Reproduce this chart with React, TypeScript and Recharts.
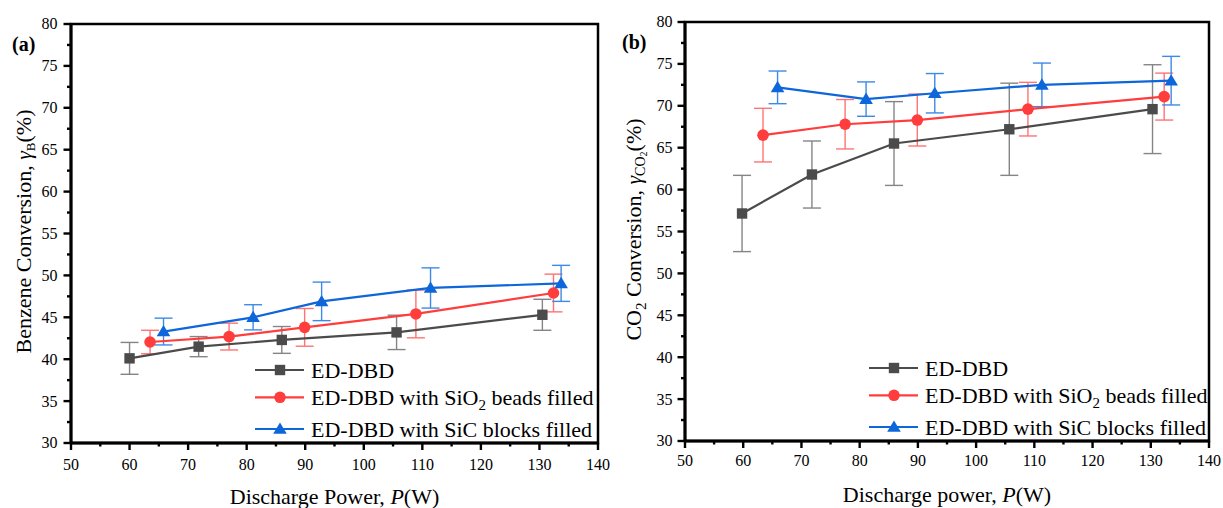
import React from 'react';
import { ScatterChart, Scatter, XAxis, YAxis, ErrorBar, ReferenceArea, Label } from 'recharts';

const FONT = '"Liberation Serif", "Times New Roman", serif';

// ---- axis ticks ----
const xTicks = [50, 55, 60, 65, 70, 75, 80, 85, 90, 95, 100, 105, 110, 115, 120, 125, 130, 135, 140];
const yTicks = [30, 32.5, 35, 37.5, 40, 42.5, 45, 47.5, 50, 52.5, 55, 57.5, 60, 62.5, 65, 67.5, 70, 72.5, 75, 77.5, 80];

// ---- series names ----
const seriesNames = ['ED-DBD', 'ED-DBD with SiO2 beads filled', 'ED-DBD with SiC blocks filled'];

// ---- panel (a): benzene conversion ----
const powerA_ED = [60.0, 71.8, 86.0, 105.6, 130.5];
const convA_ED = [40.1, 41.5, 42.3, 43.2, 45.3];
const errA_ED = [1.9, 1.2, 1.6, 2.05, 1.85];

const powerA_SiO2 = [63.5, 77.0, 89.9, 108.9, 132.4];
const convA_SiO2 = [42.05, 42.7, 43.8, 45.4, 47.9];
const errA_SiO2 = [1.4, 1.6, 2.25, 2.85, 2.25];

const powerA_SiC = [65.8, 81.1, 92.8, 111.4, 133.7];
const convA_SiC = [43.3, 45.0, 46.9, 48.5, 49.05];
const errA_SiC = [1.6, 1.5, 2.3, 2.4, 2.15];

// ---- panel (b): CO2 conversion ----
const powerB_ED = [59.8, 71.8, 85.9, 105.7, 130.3];
const convB_ED = [57.15, 61.8, 65.5, 67.2, 69.6];
const errB_ED = [4.55, 4.0, 5.0, 5.5, 5.3];

const powerB_SiO2 = [63.4, 77.5, 89.9, 108.9, 132.3];
const convB_SiO2 = [66.5, 67.8, 68.3, 69.6, 71.1];
const errB_SiO2 = [3.2, 2.95, 3.1, 3.2, 2.8];

const powerB_SiC = [65.9, 81.1, 92.9, 111.3, 133.5];
const convB_SiC = [72.2, 70.8, 71.5, 72.5, 73.0];
const errB_SiC = [1.95, 2.05, 2.35, 2.6, 2.9];

const mk = (xs: number[], ys: number[], es: number[]) => xs.map((x, i) => ({ x, y: ys[i], e: es[i] }));

const STYLES = [
  { color: '#4b4b4b', err: '#858585', shape: 'square' },
  { color: '#ff3d3d', err: '#ff7373', shape: 'circle' },
  { color: '#0d66da', err: '#3d8ae6', shape: 'triangle' },
];

const marker = (shape: string, cx: number, cy: number, fill: string) => {
  if (shape === 'square') return <rect x={cx - 5.2} y={cy - 5.2} width={10.4} height={10.4} fill={fill} />;
  if (shape === 'circle') return <circle cx={cx} cy={cy} r={5.8} fill={fill} />;
  return <path d={`M${cx},${cy - 6.5} L${cx + 6.8},${cy + 4.8} L${cx - 6.8},${cy + 4.8} Z`} fill={fill} />;
};

const makeShape = (shape: string, fill: string) => (props: any) => {
  if (props.cx == null || props.cy == null) return <g />;
  return marker(shape, props.cx, props.cy, fill);
};

const txtStyle = { fontFamily: FONT };

const YTick = (gap: number) => (props: any) => {
  const { x, y, payload } = props;
  const v = payload.value;
  const major = Math.abs(v % 5) < 1e-6;
  const len = major ? 7.5 : 4;
  return (
    <g>
      <line x1={x} x2={x - len} y1={y} y2={y} stroke="#000" strokeWidth={2.4} />
      {major && (
        <text x={x - 7.5 - gap} y={y} dy="0.34em" textAnchor="end" style={txtStyle} fontSize={16} fill="#000">
          {v}
        </text>
      )}
    </g>
  );
};

const XTick = (dyBase: number) => (props: any) => {
  const { x, y, payload } = props;
  const v = payload.value;
  const major = Math.abs(v % 10) < 1e-6;
  const len = major ? 7 : 3.5;
  return (
    <g>
      <line x1={x} x2={x} y1={y} y2={y + len} stroke="#000" strokeWidth={2.4} />
      {major && (
        <text x={x} y={y + dyBase} textAnchor="middle" style={txtStyle} fontSize={16} fill="#000">
          {v}
        </text>
      )}
    </g>
  );
};

type PanelProps = {
  letter: string;
  width: number;
  plot: { left: number; top: number; right: number; bottom: number };
  series: { x: number; y: number; e: number }[][];
  yTitle: React.ReactNode;
  xTitle: React.ReactNode;
  yGap: number;
  xDy: number;
};

const legendLabel = (i: number) => {
  if (i === 1)
    return (
      <>
        ED-DBD with SiO<tspan dy={5} fontSize={15}>2</tspan>
        <tspan dy={-5}> beads filled</tspan>
      </>
    );
  return seriesNames[i];
};

const Panel = ({ letter, width, plot, series, yTitle, xTitle, yGap, xDy }: PanelProps) => {
  const height = 508;
  const yAxisW = 60;
  const xAxisH = 40;
  const margin = {
    top: plot.top,
    right: width - plot.right,
    left: plot.left - yAxisW,
    bottom: height - plot.bottom - xAxisH,
  };
  const cx = (plot.left + plot.right) / 2;
  const cy = (plot.top + plot.bottom) / 2;
  const legendRows = [346, 373.3, 405];

  const yDecor = () => (
    <g>
      <text x={12} y={plot.top + 27} style={txtStyle} fontSize={20} fontWeight="bold" fill="#000">
        {letter}
      </text>
      <text
        x={31}
        y={cy - 2}
        transform={`rotate(-90, 31, ${cy - 2})`}
        textAnchor="middle"
        style={txtStyle}
        fontSize={22}
        fill="#000"
      >
        {yTitle}
      </text>
    </g>
  );

  const xDecor = () => (
    <g>
      <text x={cx} y={plot.bottom + 61} textAnchor="middle" style={txtStyle} fontSize={22} fill="#000">
        {xTitle}
      </text>
      {legendRows.map((ry, i) => {
        const y = plot.top + ry;
        const x0 = plot.left + 184;
        return (
          <g key={i}>
            <line x1={x0} x2={x0 + 49} y1={y} y2={y} stroke={STYLES[i].color} strokeWidth={2.2} />
            {marker(STYLES[i].shape, x0 + 25, y, STYLES[i].color)}
            <text x={x0 + 56} y={y + 8} style={txtStyle} fontSize={22} fill="#000">
              {legendLabel(i)}
            </text>
          </g>
        );
      })}
    </g>
  );

  return (
    <ScatterChart width={width} height={height} margin={margin}>
      <ReferenceArea x1={50} x2={140} y1={30} y2={80} fill="none" stroke="#000" strokeWidth={2.5} ifOverflow="visible" />
      <XAxis
        type="number"
        dataKey="x"
        domain={[50, 140]}
        ticks={xTicks}
        interval={0}
        height={xAxisH}
        tickSize={0}
        tickMargin={0}
        tickLine={false}
        axisLine={{ stroke: '#000', strokeWidth: 3 }}
        tick={XTick(xDy)}
        allowDataOverflow
      >
        <Label content={xDecor} />
      </XAxis>
      <YAxis
        type="number"
        dataKey="y"
        domain={[30, 80]}
        ticks={yTicks}
        interval={0}
        width={yAxisW}
        tickSize={0}
        tickMargin={0}
        tickLine={false}
        axisLine={{ stroke: '#000', strokeWidth: 3 }}
        tick={YTick(yGap)}
        allowDataOverflow
      >
        <Label content={yDecor} />
      </YAxis>
      {series.map((d, i) => (
        <Scatter
          key={i}
          name={seriesNames[i]}
          data={d}
          fill={STYLES[i].color}
          line={{ stroke: STYLES[i].color, strokeWidth: 2.2 }}
          lineType="joint"
          shape={makeShape(STYLES[i].shape, STYLES[i].color)}
          isAnimationActive={false}
        >
          <ErrorBar dataKey="e" direction="y" width={9} stroke={STYLES[i].err} strokeWidth={1.4} />
        </Scatter>
      ))}
    </ScatterChart>
  );
};

export default function App() {
  const seriesA = [mk(powerA_ED, convA_ED, errA_ED), mk(powerA_SiO2, convA_SiO2, errA_SiO2), mk(powerA_SiC, convA_SiC, errA_SiC)];
  const seriesB = [mk(powerB_ED, convB_ED, errB_ED), mk(powerB_SiO2, convB_SiO2, errB_SiO2), mk(powerB_SiC, convB_SiC, errB_SiC)];

  const yTitleA = (
    <>
      Benzene Conversion, <tspan fontStyle="italic">γ</tspan>
      <tspan dy={4} fontSize={13}>B</tspan>
      <tspan dy={-4}>(%)</tspan>
    </>
  );
  const yTitleB = (
    <>
      CO<tspan dy={5} fontSize={15}>2</tspan>
      <tspan dy={-5}> Conversion, </tspan>
      <tspan fontStyle="italic">γ</tspan>
      <tspan dy={4} fontSize={14}>CO</tspan>
      <tspan dy={2} fontSize={10}>2</tspan>
      <tspan dy={-6}>(%)</tspan>
    </>
  );
  const xTitleA = (
    <>
      Discharge Power, <tspan fontStyle="italic">P</tspan>(W)
    </>
  );
  const xTitleB = (
    <>
      Discharge power, <tspan fontStyle="italic">P</tspan>(W)
    </>
  );

  return (
    <div style={{ position: 'absolute', left: 0, top: 0, width: 1223, height: 508, background: '#fff' }}>
      <div style={{ position: 'absolute', left: 0, top: 0 }}>
        <Panel
          letter="(a)"
          width={610}
          plot={{ left: 71, top: 24, right: 598, bottom: 443 }}
          series={seriesA}
          yTitle={yTitleA}
          xTitle={xTitleA}
          yGap={6}
          xDy={27}
        />
      </div>
      <div style={{ position: 'absolute', left: 610, top: 0 }}>
        <Panel
          letter="(b)"
          width={613}
          plot={{ left: 75, top: 22, right: 599, bottom: 441 }}
          series={seriesB}
          yTitle={yTitleB}
          xTitle={xTitleB}
          yGap={5}
          xDy={25}
        />
      </div>
    </div>
  );
}
